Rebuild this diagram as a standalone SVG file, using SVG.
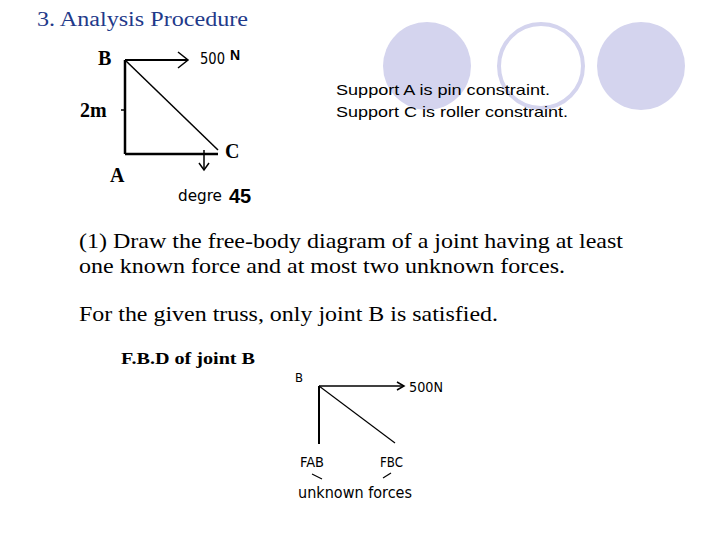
<svg xmlns="http://www.w3.org/2000/svg" width="720" height="540" viewBox="0 0 720 540">
<style>
.ser{font-family:"Liberation Serif",serif;fill:#000}
.san{font-family:"Liberation Sans",sans-serif;fill:#000}
.nar{font-family:"DejaVu Sans Condensed","Liberation Sans Narrow",sans-serif;fill:#000}
.ln{stroke:#000;fill:none}
</style>
<rect width="720" height="540" fill="#fff"/>
<g id="circles">
<circle cx="427" cy="66" r="44" fill="#d4d4ee"/>
<circle cx="541" cy="66" r="42" fill="#fff" stroke="#d4d4ee" stroke-width="4"/>
<circle cx="641" cy="66" r="44" fill="#d4d4ee"/>
</g>
<text x="37" y="26" class="ser" font-size="20" style="fill:#1f3a8a" textLength="211" lengthAdjust="spacingAndGlyphs">3. Analysis Procedure</text>
<g id="truss">
<line x1="125" y1="60" x2="125" y2="154" class="ln" stroke-width="2.5"/>
<line x1="125" y1="154" x2="218" y2="154" class="ln" stroke-width="2.5"/>
<line x1="125" y1="60" x2="218" y2="150" class="ln" stroke-width="1.5"/>
<line x1="125" y1="60" x2="188" y2="60" class="ln" stroke-width="2"/>
<polyline points="178,52 188,60 178,68" class="ln" stroke-width="1.5"/>
<line x1="204" y1="150" x2="204" y2="170" class="ln" stroke-width="1.5"/>
<polyline points="199,163 204,170 209,163" class="ln" stroke-width="1.5"/>
<line x1="121" y1="110" x2="125" y2="110" class="ln" stroke-width="1.5"/>
<text x="98" y="65" class="ser" font-size="20" font-weight="bold">B</text>
<text x="200" y="64" class="nar" font-size="15" textLength="25" lengthAdjust="spacingAndGlyphs">500</text>
<text x="230" y="60" class="san" font-size="14" font-weight="bold">N</text>
<text x="80" y="117" class="ser" font-size="20" font-weight="bold">2m</text>
<text x="225" y="158" class="ser" font-size="20" font-weight="bold">C</text>
<text x="110" y="182" class="ser" font-size="20" font-weight="bold">A</text>
<text x="178" y="201" class="nar" font-size="15" textLength="44" lengthAdjust="spacingAndGlyphs">degre</text>
<text x="229" y="203" class="san" font-size="20" font-weight="bold">45</text>
</g>
<text x="336" y="95" class="san" font-size="15" textLength="214" lengthAdjust="spacingAndGlyphs">Support A is pin constraint.</text>
<text x="336" y="117" class="san" font-size="15" textLength="232" lengthAdjust="spacingAndGlyphs">Support C is roller constraint.</text>
<text x="79" y="248" class="ser" font-size="21" textLength="544" lengthAdjust="spacingAndGlyphs">(1) Draw the free-body diagram of a joint having at least</text>
<text x="79" y="273" class="ser" font-size="21" textLength="486" lengthAdjust="spacingAndGlyphs">one known force and at most two unknown forces.</text>
<text x="79" y="321" class="ser" font-size="21" textLength="419" lengthAdjust="spacingAndGlyphs">For the given truss, only joint B is satisfied.</text>
<text x="121" y="364" class="ser" font-size="16" font-weight="bold" textLength="134" lengthAdjust="spacingAndGlyphs">F.B.D of joint B</text>
<g id="fbd">
<line x1="319" y1="386" x2="319" y2="444" class="ln" stroke-width="2"/>
<line x1="319" y1="386" x2="404" y2="386" class="ln" stroke-width="1.5"/>
<polyline points="397,382 404,386 397,390" class="ln" stroke-width="1.5"/>
<line x1="319" y1="386" x2="395" y2="443" class="ln" stroke-width="1.2"/>
<line x1="312" y1="474" x2="322" y2="479" class="ln" stroke-width="1.2"/>
<line x1="383" y1="478" x2="391" y2="473" class="ln" stroke-width="1.2"/>
<text x="295" y="382" class="nar" font-size="13">B</text>
<text x="409" y="392" class="nar" font-size="14" textLength="34" lengthAdjust="spacingAndGlyphs">500N</text>
<text x="300" y="467" class="nar" font-size="14" textLength="24" lengthAdjust="spacingAndGlyphs">FAB</text>
<text x="380" y="467" class="nar" font-size="14" textLength="23" lengthAdjust="spacingAndGlyphs">FBC</text>
<text x="298" y="498" class="nar" font-size="15" textLength="114" lengthAdjust="spacingAndGlyphs">unknown forces</text>
</g>
</svg>
